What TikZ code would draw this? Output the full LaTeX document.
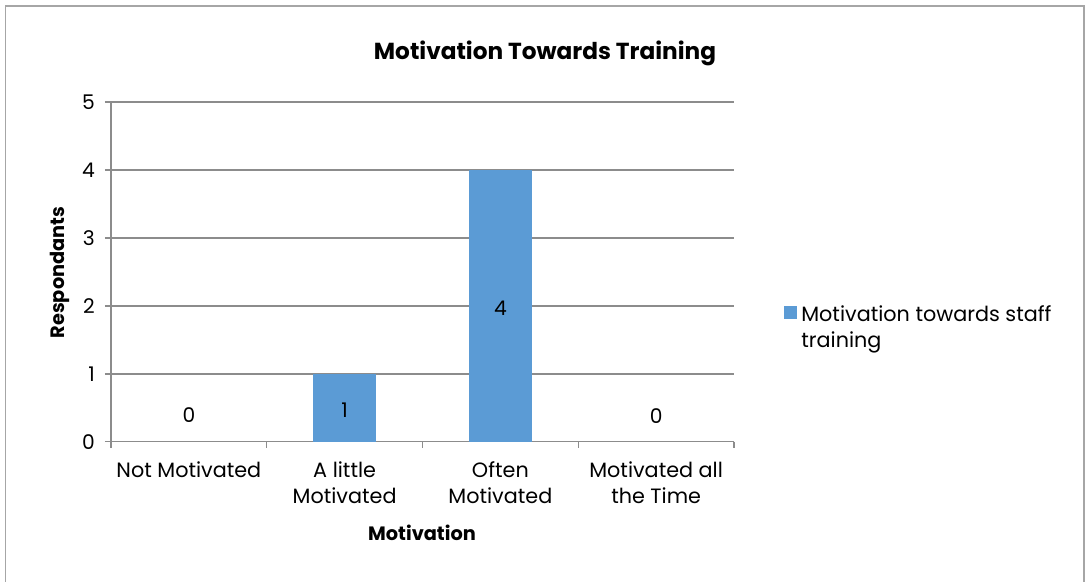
\documentclass[tikz,border=0pt]{standalone}
\usepackage{fontspec}
\setmainfont{Poppins}
\usetikzlibrary{positioning}
\definecolor{barblue}{HTML}{5B9BD5}
\definecolor{gridgray}{HTML}{8C8C8C}
\definecolor{framegray}{HTML}{A6A6A6}

\begin{document}
\begin{tikzpicture}[
        gridline/.style={draw=gridgray, line width=0.8pt},
        bar/.style={fill=barblue, draw=none},
        ticklabel/.style={font=\fontsize{11.5}{13}\selectfont, inner sep=2pt},
        catlabel/.style={font=\fontsize{11.8}{14.8}\selectfont, align=center, inner sep=0pt},
        axistitle/.style={font=\bfseries\fontsize{11}{13}\selectfont},
    ]
    \useasboundingbox (0,0) rectangle (21.74,11.62);
    \draw[framegray, line width=0.9pt](0.11,-0.5)--(0.11,11.5)--(21.68,11.5)--(21.68,-0.5);

    \node[font=\bfseries\fontsize{13.2}{15}\selectfont](title) at (10.9, 10.56){Motivation Towards Training};

    % plot area, in data units
    \begin{scope}[shift={(2.22,2.786)}, x=3.115cm, y=1.358cm]
        \foreach \v in {1,...,5}
            \draw[gridline](-0.04, \v)--(4, \v);
        \draw[gridline](-0.04, 0)--(4, 0);
        \draw[gridline](0, 0)--(0, 5);
        \foreach \c in {0,...,4}
            \draw[gridline](\c, 0)--(\c, -0.1);
        \foreach \v in {0,...,5}
            \node[ticklabel, left, xshift=-3.5pt](ytick\v) at (-0.04, \v){\v};

        \fill[bar](1.3, 0)rectangle(1.7, 1);
        \fill[bar](2.3, 0)rectangle(2.7, 4);

        \node[ticklabel](val0) at (0.5, 0.39){0};
        \node[ticklabel](val1) at (1.5, 0.47){1};
        \node[ticklabel](val2) at (2.5, 1.97){4};
        \node[ticklabel](val3) at (3.5, 0.38){0};

        \node[catlabel, anchor=north](cat0) at (0.5, -0.29){Not Motivated};
        \node[catlabel, anchor=north](cat1) at (1.5, -0.29){A little\\Motivated};
        \node[catlabel, anchor=north](cat2) at (2.5, -0.29){Often\\Motivated};
        \node[catlabel, anchor=north](cat3) at (3.5, -0.29){Motivated all\\the Time};
    \end{scope}

    \node[axistitle](xtitle) at (8.44, 0.96){Motivation};
    \node[axistitle, rotate=90](ytitle) at (1.2, 6.17){Respondants};

    % legend
    \fill[bar](15.68, 5.24)rectangle(15.94, 5.5);
    \node[catlabel, align=left, anchor=north west](legend) at (16.02, 5.52){Motivation towards staff\\training};
\end{tikzpicture}
\end{document}
